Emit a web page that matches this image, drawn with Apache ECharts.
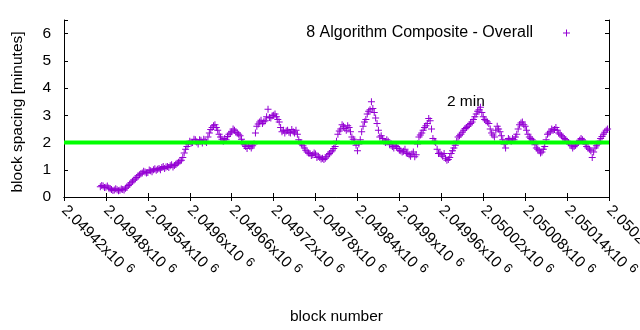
<!DOCTYPE html>
<html>
<head>
<meta charset="utf-8">
<script src="https://cdn.jsdelivr.net/npm/echarts@6/dist/echarts.min.js"></script>
<style>html,body{margin:0;padding:0;background:#fff;}#c{width:640px;height:330px;}</style>
</head>
<body>
<div id="c"></div>
<script>
const seriesName = '8 Algorithm Composite - Overall';
const xMin = 2049420, xMax = 2050200, xStep = 60;
const yMin = 0, yMax = 6.5, yStep = 1;
const xTickLabels = ['2.04942','2.04948','2.04954','2.0496','2.04966','2.04972','2.04978','2.04984','2.0499','2.04996','2.05002','2.05008','2.05014','2.0502'];
// sampled block numbers (every 4th block)
const blocks = [
2049472,2049476,2049480,2049484,2049488,2049492,2049496,2049500,2049504,2049508,
2049512,2049516,2049520,2049524,2049528,2049532,2049536,2049540,2049544,2049548,
2049552,2049556,2049560,2049564,2049568,2049572,2049576,2049580,2049584,2049588,
2049592,2049596,2049600,2049604,2049608,2049612,2049616,2049620,2049624,2049628,
2049632,2049636,2049640,2049644,2049648,2049652,2049656,2049660,2049664,2049668,
2049672,2049676,2049680,2049684,2049688,2049692,2049696,2049700,2049704,2049708,
2049712,2049716,2049720,2049724,2049728,2049732,2049736,2049740,2049744,2049748,
2049752,2049756,2049760,2049764,2049768,2049772,2049776,2049780,2049784,2049788,
2049792,2049796,2049800,2049804,2049808,2049812,2049816,2049820,2049824,2049828,
2049832,2049836,2049840,2049844,2049848,2049852,2049856,2049860,2049864,2049868,
2049872,2049876,2049880,2049884,2049888,2049892,2049896,2049900,2049904,2049908,
2049912,2049916,2049920,2049924,2049928,2049932,2049936,2049940,2049944,2049948,
2049952,2049956,2049960,2049964,2049968,2049972,2049976,2049980,2049984,2049988,
2049992,2049996,2050000,2050004,2050008,2050012,2050016,2050020,2050024,2050028,
2050032,2050036,2050040,2050044,2050048,2050052,2050056,2050060,2050064,2050068,
2050072,2050076,2050080,2050084,2050088,2050092,2050096,2050100,2050104,2050108,
2050112,2050116,2050120,2050124,2050128,2050132,2050136,2050140,2050144,2050148,
2050152,2050156,2050160,2050164,2050168,2050172,2050176,2050180,2050184,2050188,
2050192,2050196
];
// block spacing [minutes] at the blocks above
const spacing = [
0.38,0.40,0.36,0.33,0.28,0.26,0.27,0.25,0.28,0.32,
0.42,0.52,0.62,0.72,0.82,0.88,0.92,0.90,0.96,1.00,
0.98,1.05,1.08,1.05,1.12,1.15,1.10,1.20,1.28,1.35,
1.62,1.85,2.05,2.00,2.10,1.95,2.08,2.12,2.00,2.35,
2.55,2.65,2.45,2.20,2.05,2.10,2.30,2.40,2.45,2.35,
2.25,2.00,1.85,1.90,1.80,1.95,2.60,2.75,2.70,2.80,
3.22,2.90,3.00,2.95,2.75,2.40,2.35,2.45,2.35,2.40,
2.45,2.10,1.95,1.80,1.65,1.60,1.55,1.58,1.50,1.40,
1.38,1.48,1.60,1.70,1.85,2.30,2.50,2.60,2.45,2.55,
2.20,2.05,1.70,2.10,2.60,2.85,3.15,3.50,3.10,2.70,
2.20,2.15,2.00,2.05,1.95,1.80,1.85,1.72,1.65,1.75,
1.60,1.50,1.65,1.55,2.20,2.35,2.55,2.70,2.80,2.15,
2.00,1.60,1.55,1.60,1.35,1.45,1.70,1.90,2.20,2.30,
2.45,2.55,2.65,2.75,2.95,3.15,3.30,2.95,2.80,2.70,
2.35,2.20,2.60,2.40,2.10,1.80,2.15,2.05,2.10,2.30,
2.65,2.75,2.60,2.30,2.15,2.05,1.80,1.70,1.65,1.85,
2.30,2.40,2.45,2.55,2.35,2.25,2.15,2.05,1.95,1.80,
1.90,2.00,2.15,2.05,1.85,1.75,1.45,1.80,1.95,2.15,
2.30,2.45
];
// block spacing [minutes] two blocks after each block above
const spacingNext = [
0.42,0.35,0.40,0.30,0.24,0.30,0.23,0.29,0.26,0.37,
0.47,0.58,0.66,0.78,0.85,0.95,0.88,0.99,0.93,1.04,
1.02,1.00,1.12,1.10,1.08,1.18,1.16,1.24,1.32,1.45,
1.75,1.95,1.98,2.12,2.02,2.10,1.98,2.05,2.20,2.48,
2.62,2.55,2.30,2.12,2.15,2.22,2.35,2.50,2.38,2.30,
2.12,1.92,1.78,1.85,1.88,2.35,2.68,2.82,2.76,2.95,
2.92,2.98,3.05,2.85,2.55,2.45,2.42,2.38,2.48,2.35,
2.30,2.00,1.88,1.72,1.62,1.52,1.62,1.45,1.45,1.42,
1.42,1.55,1.65,1.78,2.05,2.42,2.65,2.52,2.62,2.40,
2.12,1.90,1.95,2.40,2.75,3.05,3.20,3.25,2.90,2.45,
2.25,2.05,2.10,1.92,1.85,1.90,1.78,1.70,1.68,1.62,
1.55,1.58,1.48,1.95,2.28,2.45,2.62,2.88,2.50,2.05,
1.75,1.62,1.50,1.42,1.38,1.60,1.80,2.05,2.25,2.38,
2.52,2.60,2.70,2.85,3.05,3.20,3.10,2.85,2.75,2.50,
2.28,2.45,2.50,2.25,1.95,2.05,2.10,2.15,2.20,2.50,
2.72,2.65,2.45,2.20,2.10,1.92,1.75,1.62,1.75,2.10,
2.35,2.50,2.48,2.45,2.30,2.20,2.10,2.00,1.88,1.85,
1.95,2.08,2.10,1.95,1.80,1.70,1.65,1.88,2.05,2.22,
2.38,2.50
];
const targetSpacing = 2;
const targetLabel = '2 min';
const targetLabelPos = [2049968, 3.5];

const plusPath = 'path://M0,3h7v1h-7zM3,0h1v7h-1z';
const font = 'Liberation Sans';
const fs = 15.5;
const purple = '#9400d3';

const points = [];
blocks.forEach(function (b, i) {
  points.push([b, spacing[i]]);
  points.push([b + 2, spacingNext[i]]);
});

const chart = echarts.init(document.getElementById('c'), null, {renderer: 'canvas'});
const axisCommon = {
  axisLine: {show: true, lineStyle: {color: '#000', width: 1}},
  axisTick: {show: true, inside: true, length: 4, lineStyle: {color: '#000'}},
  splitLine: {show: false}
};
chart.setOption({
  animation: false,
  backgroundColor: '#fff',
  textStyle: {fontFamily: font},
  grid: {left: 64, right: 31, top: 20, bottom: 133, containLabel: false, outerBoundsMode: 'none'},
  legend: {
    data: [{name: seriesName, icon: plusPath}],
    align: 'right',
    right: 65, top: 20,
    itemWidth: 7, itemHeight: 7,
    textStyle: {fontFamily: font, fontSize: 16, color: '#000', padding: [0, 25, 0, 0]}
  },
  xAxis: [
    Object.assign({}, axisCommon, {
      type: 'value', min: xMin, max: xMax, interval: xStep, position: 'bottom',
      name: 'block number', nameLocation: 'middle', nameGap: 112,
      nameTextStyle: {fontFamily: font, fontSize: fs, color: '#000'},
      axisLabel: {
        rotate: -45, margin: 11, color: '#000', fontFamily: font, fontSize: fs,
        showMinLabel: true, showMaxLabel: true, hideOverlap: false,
        formatter: function (v) {
          const i = Math.round((v - xMin) / xStep);
          return '{m|' + xTickLabels[i] + 'x10}{e|6}';
        },
        rich: {
          m: {fontFamily: font, fontSize: fs, color: '#000'},
          e: {fontFamily: font, fontSize: 13, color: '#000', padding: [0, 0, 8, 5]}
        }
      }
    }),
    Object.assign({}, axisCommon, {
      type: 'value', min: xMin, max: xMax, interval: xStep, position: 'top',
      axisLabel: {show: false}
    })
  ],
  yAxis: [
    Object.assign({}, axisCommon, {
      type: 'value', min: yMin, max: yMax, interval: yStep, position: 'left',
      name: 'block spacing [minutes]', nameLocation: 'middle', nameGap: 38,
      nameTextStyle: {fontFamily: font, fontSize: fs, color: '#000', padding: [0, 7, 0, 0]},
      axisLabel: {
        margin: 13, color: '#000', fontFamily: font, fontSize: fs,
        formatter: function (v) { return (v % 1 === 0) ? String(v) : ''; }
      }
    }),
    Object.assign({}, axisCommon, {
      type: 'value', min: yMin, max: yMax, interval: yStep, position: 'right',
      axisLabel: {show: false}
    })
  ],
  series: [
    {
      name: seriesName,
      type: 'scatter',
      symbol: plusPath,
      symbolSize: 7,
      itemStyle: {color: purple, opacity: 1},
      data: points
    },
    {
      name: 'target',
      type: 'line',
      symbol: 'none',
      lineStyle: {color: '#00ff00', width: 4},
      data: [[xMin, targetSpacing], [xMax, targetSpacing]],
      markPoint: {
        symbol: 'circle', symbolSize: 0,
        label: {show: true, position: 'right', distance: 0, formatter: targetLabel,
                color: '#000', fontFamily: font, fontSize: fs},
        data: [{coord: targetLabelPos}]
      }
    }
  ]
});
</script>
</body>
</html>
